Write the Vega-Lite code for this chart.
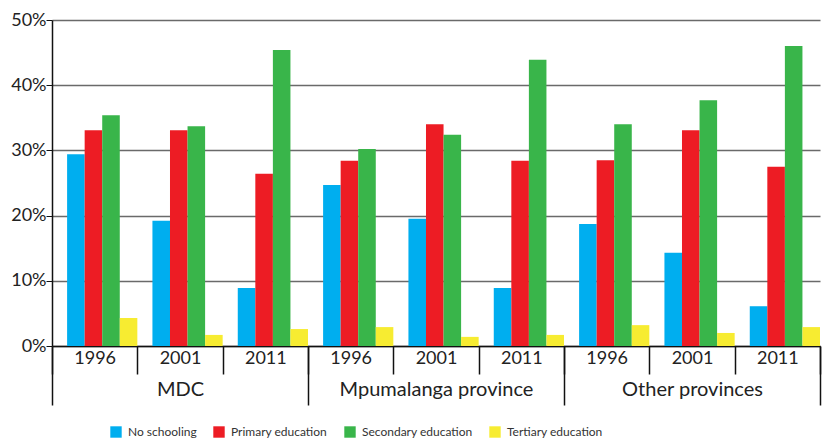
{
  "$schema": "https://vega.github.io/schema/vega-lite/v6.json",
  "width": 768,
  "height": 326,
  "autosize": "none",
  "padding": {"left": 52, "top": 20, "right": 9, "bottom": 93},
  "background": "white",
  "config": {
    "font": "Lato",
    "view": {"stroke": null},
    "axis": {"labelColor": "#222", "labelFont": "Lato"},
    "legend": {"labelFont": "Lato"}
  },
  "data": {
    "values": [
      {"region": "MDC", "year": "1996", "group": "MDC 1996", "level": "No schooling", "value": 29.4},
      {"region": "MDC", "year": "1996", "group": "MDC 1996", "level": "Primary education", "value": 33.1},
      {"region": "MDC", "year": "1996", "group": "MDC 1996", "level": "Secondary education", "value": 35.4},
      {"region": "MDC", "year": "1996", "group": "MDC 1996", "level": "Tertiary education", "value": 4.3},
      {"region": "MDC", "year": "2001", "group": "MDC 2001", "level": "No schooling", "value": 19.2},
      {"region": "MDC", "year": "2001", "group": "MDC 2001", "level": "Primary education", "value": 33.1},
      {"region": "MDC", "year": "2001", "group": "MDC 2001", "level": "Secondary education", "value": 33.7},
      {"region": "MDC", "year": "2001", "group": "MDC 2001", "level": "Tertiary education", "value": 1.7},
      {"region": "MDC", "year": "2011", "group": "MDC 2011", "level": "No schooling", "value": 8.9},
      {"region": "MDC", "year": "2011", "group": "MDC 2011", "level": "Primary education", "value": 26.4},
      {"region": "MDC", "year": "2011", "group": "MDC 2011", "level": "Secondary education", "value": 45.4},
      {"region": "MDC", "year": "2011", "group": "MDC 2011", "level": "Tertiary education", "value": 2.6},
      {"region": "Mpumalanga province", "year": "1996", "group": "Mpumalanga province 1996", "level": "No schooling", "value": 24.7},
      {"region": "Mpumalanga province", "year": "1996", "group": "Mpumalanga province 1996", "level": "Primary education", "value": 28.4},
      {"region": "Mpumalanga province", "year": "1996", "group": "Mpumalanga province 1996", "level": "Secondary education", "value": 30.2},
      {"region": "Mpumalanga province", "year": "1996", "group": "Mpumalanga province 1996", "level": "Tertiary education", "value": 2.9},
      {"region": "Mpumalanga province", "year": "2001", "group": "Mpumalanga province 2001", "level": "No schooling", "value": 19.5},
      {"region": "Mpumalanga province", "year": "2001", "group": "Mpumalanga province 2001", "level": "Primary education", "value": 34.0},
      {"region": "Mpumalanga province", "year": "2001", "group": "Mpumalanga province 2001", "level": "Secondary education", "value": 32.4},
      {"region": "Mpumalanga province", "year": "2001", "group": "Mpumalanga province 2001", "level": "Tertiary education", "value": 1.4},
      {"region": "Mpumalanga province", "year": "2011", "group": "Mpumalanga province 2011", "level": "No schooling", "value": 8.9},
      {"region": "Mpumalanga province", "year": "2011", "group": "Mpumalanga province 2011", "level": "Primary education", "value": 28.4},
      {"region": "Mpumalanga province", "year": "2011", "group": "Mpumalanga province 2011", "level": "Secondary education", "value": 43.9},
      {"region": "Mpumalanga province", "year": "2011", "group": "Mpumalanga province 2011", "level": "Tertiary education", "value": 1.7},
      {"region": "Other provinces", "year": "1996", "group": "Other provinces 1996", "level": "No schooling", "value": 18.7},
      {"region": "Other provinces", "year": "1996", "group": "Other provinces 1996", "level": "Primary education", "value": 28.5},
      {"region": "Other provinces", "year": "1996", "group": "Other provinces 1996", "level": "Secondary education", "value": 34.0},
      {"region": "Other provinces", "year": "1996", "group": "Other provinces 1996", "level": "Tertiary education", "value": 3.2},
      {"region": "Other provinces", "year": "2001", "group": "Other provinces 2001", "level": "No schooling", "value": 14.3},
      {"region": "Other provinces", "year": "2001", "group": "Other provinces 2001", "level": "Primary education", "value": 33.1},
      {"region": "Other provinces", "year": "2001", "group": "Other provinces 2001", "level": "Secondary education", "value": 37.7},
      {"region": "Other provinces", "year": "2001", "group": "Other provinces 2001", "level": "Tertiary education", "value": 2.0},
      {"region": "Other provinces", "year": "2011", "group": "Other provinces 2011", "level": "No schooling", "value": 6.1},
      {"region": "Other provinces", "year": "2011", "group": "Other provinces 2011", "level": "Primary education", "value": 27.5},
      {"region": "Other provinces", "year": "2011", "group": "Other provinces 2011", "level": "Secondary education", "value": 46.0},
      {"region": "Other provinces", "year": "2011", "group": "Other provinces 2011", "level": "Tertiary education", "value": 2.9}
    ]
  },
  "layer": [
    {
      "mark": {"type": "bar"},
      "encoding": {
        "x": {
          "field": "group",
          "type": "nominal",
          "sort": null,
          "scale": {"paddingInner": 0, "paddingOuter": 0},
          "axis": {
            "orient": "bottom",
            "title": null,
            "labelAngle": 0,
            "labelExpr": "slice(datum.label, -4)",
            "labelFontSize": 18,
            "labelPadding": -25,
            "tickBand": "extent",
            "tickSize": 28,
            "tickColor": "#111",
            "tickWidth": 1.5,
            "domainColor": "#111",
            "domainWidth": 1.5
          }
        },
        "xOffset": {
          "field": "level",
          "type": "nominal",
          "scale": {"domain": ["No schooling", "Primary education", "Secondary education", "Tertiary education"], "paddingInner": 0, "paddingOuter": 0.43, "align": 1}
        },
        "y": {
          "field": "value",
          "type": "quantitative",
          "scale": {"domain": [0, 50], "nice": false},
          "axis": {
            "title": null,
            "values": [0, 10, 20, 30, 40, 50],
            "labelExpr": "datum.value + '%'",
            "labelFontSize": 18,
            "labelPadding": 0,
            "tickSize": 6,
            "tickColor": "#111",
            "domainColor": "#111",
            "domainWidth": 1.5,
            "grid": true,
            "gridColor": "#6a6a6a",
            "gridWidth": 1.5
          }
        },
        "color": {
          "field": "level",
          "type": "nominal",
          "scale": {"domain": ["No schooling", "Primary education", "Secondary education", "Tertiary education"], "range": ["#00AEEF", "#ED1C24", "#39B54A", "#F7EC31"]},
          "legend": {
            "title": null,
            "orient": "none",
            "legendX": 58,
            "legendY": 406,
            "direction": "horizontal",
            "symbolType": "square",
            "symbolSize": 130,
            "symbolStrokeWidth": 0,
            "symbolOpacity": 1,
            "labelFontSize": 12,
            "labelColor": "#333",
            "labelOffset": 6,
            "columnPadding": 16
          }
        }
      }
    },
    {
      "mark": {"type": "rule", "opacity": 0},
      "encoding": {
        "x": {
          "field": "region",
          "type": "nominal",
          "sort": null,
          "scale": {"paddingInner": 0, "paddingOuter": 0},
          "axis": {
            "orient": "bottom",
            "title": null,
            "labelAngle": 0,
            "labelFontSize": 20,
            "labelPadding": -26,
            "labelLimit": 0,
            "tickBand": "extent",
            "tickSize": 59,
            "tickColor": "#111",
            "tickWidth": 1.5,
            "domain": false
          }
        }
      }
    }
  ],
  "resolve": {"scale": {"x": "independent"}, "axis": {"x": "independent"}}
}
